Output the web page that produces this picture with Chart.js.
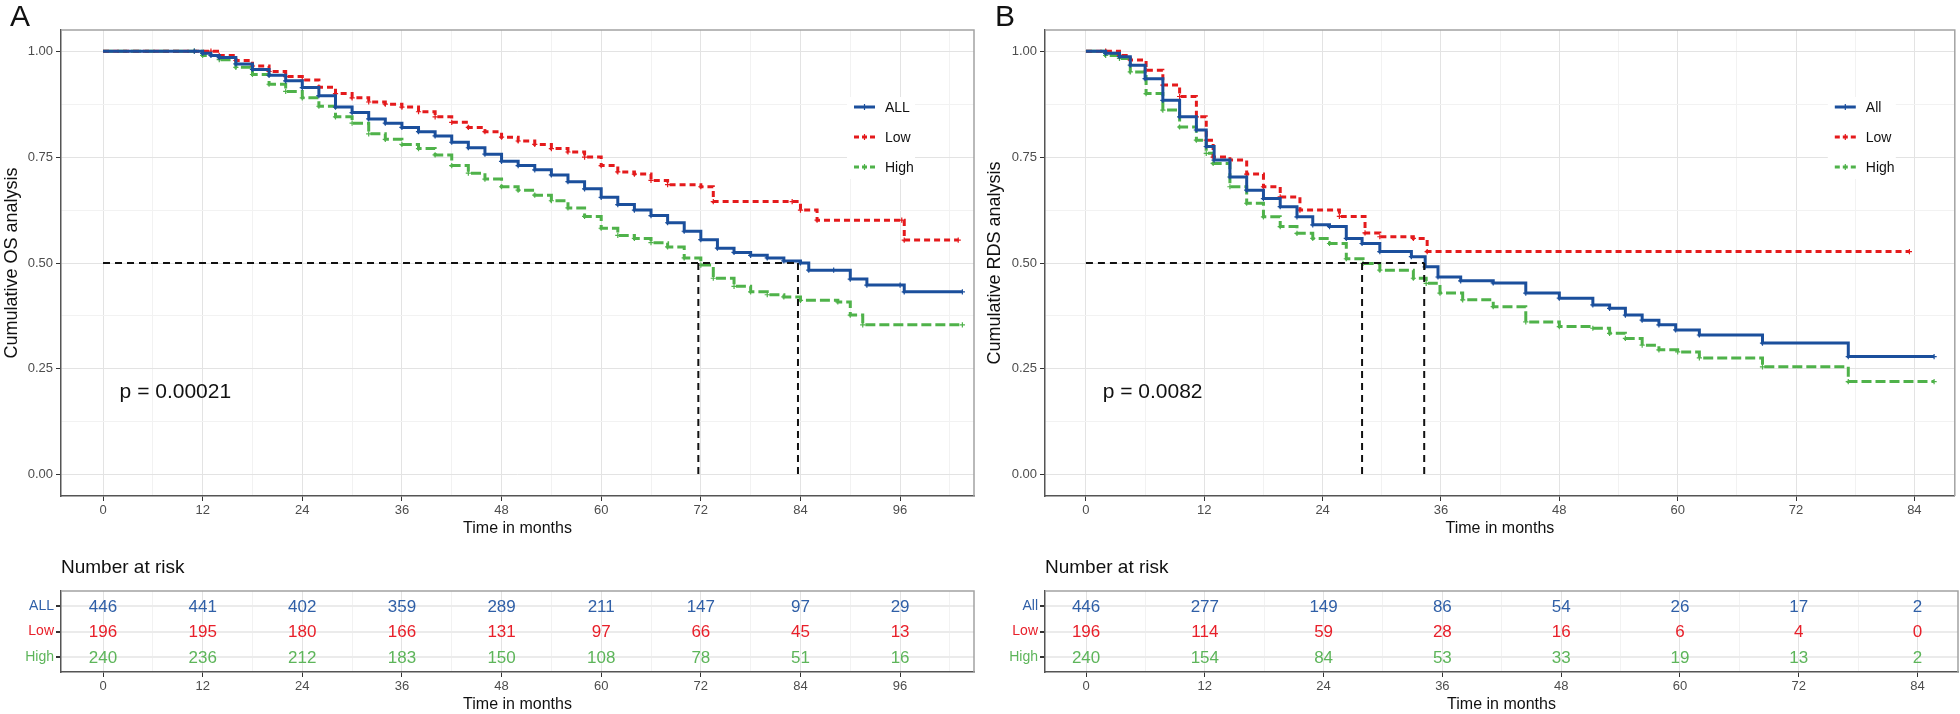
<!DOCTYPE html>
<html>
<head>
<meta charset="utf-8">
<script src="https://cdn.jsdelivr.net/npm/chart.js@4.4.1/dist/chart.umd.min.js"></script>
<style>
  html, body { margin: 0; padding: 0; background: #fff; }
  body { width: 1960px; height: 714px; position: relative; overflow: hidden; }
  canvas { position: absolute; }
</style>
</head>
<body>
<canvas id="km-a" width="980" height="540" style="left:0;top:0"></canvas>
<canvas id="risk-a" width="980" height="169" style="left:0;top:545px"></canvas>
<canvas id="km-b" width="980" height="540" style="left:980px;top:0"></canvas>
<canvas id="risk-b" width="980" height="169" style="left:980px;top:545px"></canvas>
<script>
// ---- panel A: overall survival (months / survival probability) ----
const osAllT  = [0, 11, 12, 13, 14, 16, 18, 20, 22, 24, 26, 28, 30, 32, 34, 36, 38, 40, 42, 44, 46, 48, 50, 52, 54, 56, 58, 60, 62, 64, 66, 68, 70, 72, 74, 76, 78, 80, 82, 84, 85, 88, 90, 92, 96, 96.5, 103.5]
const osAllS  = [1, 1, 0.995, 0.99, 0.985, 0.97, 0.957, 0.943, 0.93, 0.914, 0.895, 0.868, 0.855, 0.84, 0.83, 0.82, 0.81, 0.8, 0.785, 0.772, 0.757, 0.74, 0.73, 0.72, 0.708, 0.692, 0.675, 0.655, 0.638, 0.625, 0.612, 0.595, 0.575, 0.555, 0.535, 0.525, 0.518, 0.512, 0.505, 0.5, 0.483, 0.483, 0.462, 0.448, 0.448, 0.432, 0.432]
const osLowT  = [0, 13, 14, 16, 18, 20, 22, 24, 26, 28, 30, 32, 34, 36, 38, 40, 42, 44, 46, 48, 50, 52, 54, 56, 58, 60, 62, 64, 66, 68, 72, 73.5, 83, 84, 86, 96.2, 96.5, 103]
const osLowS  = [1, 1, 0.99, 0.978, 0.965, 0.952, 0.94, 0.932, 0.915, 0.9, 0.89, 0.88, 0.875, 0.868, 0.857, 0.845, 0.832, 0.82, 0.81, 0.797, 0.788, 0.78, 0.77, 0.762, 0.75, 0.73, 0.715, 0.71, 0.695, 0.685, 0.68, 0.645, 0.645, 0.625, 0.601, 0.601, 0.554, 0.554]
const osHighT = [0, 11, 12, 14, 16, 18, 20, 22, 24, 26, 28, 30, 32, 34, 36, 38, 40, 42, 44, 46, 48, 50, 52, 54, 56, 58, 60, 62, 64, 66, 68, 70, 72, 73.5, 76, 78, 80, 82, 84, 88.5, 90, 91.5, 103.5]
const osHighS = [1, 1, 0.99, 0.98, 0.962, 0.945, 0.922, 0.905, 0.89, 0.87, 0.845, 0.83, 0.805, 0.792, 0.78, 0.77, 0.755, 0.73, 0.712, 0.698, 0.68, 0.672, 0.66, 0.647, 0.63, 0.61, 0.582, 0.565, 0.558, 0.548, 0.538, 0.512, 0.495, 0.464, 0.445, 0.432, 0.425, 0.42, 0.412, 0.408, 0.377, 0.354, 0.354]
const osMedians = [71.7, 83.7]
const osGroups  = ['ALL', 'Low', 'High']
const osP       = 'p = 0.00021'

// ---- panel B: RDS ----
const rdsAllT  = [0, 2, 3.4, 4.5, 6, 7.8, 9.5, 11.2, 12.2, 13, 14.6, 16.3, 18, 19.7, 21.4, 23, 24.7, 26.4, 28, 29.8, 33, 34.4, 35.7, 38, 41.3, 44.6, 48, 51.4, 53.1, 54.7, 56.4, 58.1, 59.8, 62.2, 68.6, 77.3, 86]
const rdsAllS  = [1, 0.995, 0.987, 0.967, 0.935, 0.884, 0.845, 0.814, 0.775, 0.743, 0.703, 0.672, 0.652, 0.633, 0.609, 0.59, 0.586, 0.558, 0.546, 0.527, 0.515, 0.491, 0.467, 0.458, 0.453, 0.429, 0.417, 0.401, 0.393, 0.377, 0.365, 0.354, 0.342, 0.33, 0.311, 0.279, 0.279]
const rdsLowT  = [0, 2, 3.4, 4.5, 6.1, 7.8, 9.5, 11.2, 12.2, 12.9, 14.6, 16.3, 18, 19.7, 21.7, 25.7, 28.3, 29.8, 33.2, 34.6, 83.5]
const rdsLowS  = [1, 1, 0.99, 0.979, 0.955, 0.92, 0.893, 0.845, 0.79, 0.75, 0.743, 0.71, 0.68, 0.656, 0.625, 0.61, 0.571, 0.562, 0.558, 0.527, 0.527]
const rdsHighT = [0, 2, 3.4, 4.5, 6.1, 7.8, 9.5, 11.2, 12.2, 12.9, 14.6, 16.3, 18, 19.7, 21.4, 23, 24.7, 26.4, 28.1, 29.8, 33.2, 34.5, 35.9, 38.2, 41.3, 44.6, 48, 51.4, 53.1, 54.7, 56.4, 58.1, 60, 62.2, 68.6, 77.3, 86]
const rdsHighS = [1, 0.99, 0.983, 0.951, 0.9, 0.861, 0.821, 0.79, 0.759, 0.735, 0.68, 0.641, 0.609, 0.586, 0.57, 0.558, 0.546, 0.51, 0.499, 0.483, 0.464, 0.452, 0.429, 0.413, 0.397, 0.361, 0.35, 0.346, 0.334, 0.322, 0.306, 0.295, 0.29, 0.276, 0.255, 0.22, 0.22]
const rdsMedians = [28, 34.3]
const rdsGroups  = ['All', 'Low', 'High']
const rdsP       = 'p = 0.0082'

// ---- number at risk ----
const riskTimesA = [0, 12, 24, 36, 48, 60, 72, 84, 96]
const riskAllA   = [446, 441, 402, 359, 289, 211, 147, 97, 29]
const riskLowA   = [196, 195, 180, 166, 131, 97, 66, 45, 13]
const riskHighA  = [240, 236, 212, 183, 150, 108, 78, 51, 16]
const riskTimesB = [0, 12, 24, 36, 48, 60, 72, 84]
const riskAllB   = [446, 277, 149, 86, 54, 26, 17, 2]
const riskLowB   = [196, 114, 59, 28, 16, 6, 4, 0]
const riskHighB  = [240, 154, 84, 53, 33, 19, 13, 2]

// ---- axis grids ----
const xGridA = [0, 6, 12, 18, 24, 30, 36, 42, 48, 54, 60, 66, 72, 78, 84, 90, 96, 102]
const xGridB = [0, 6, 12, 18, 24, 30, 36, 42, 48, 54, 60, 66, 72, 78, 84]
const yGrid  = [0, 0.125, 0.25, 0.375, 0.5, 0.625, 0.75, 0.875, 1]

const FONT  = "'Liberation Sans', Arial, sans-serif"
const BLUE  = '#1b4f9c'
const RED   = '#e41a1c'
const GREEN = '#4fb24a'
const TXT   = ['#2f5fa7', '#e8202a', '#5db55a']

Chart.defaults.font.family = FONT
Chart.defaults.color = '#4d4d4d'

const xy = (ts, ss) => ts.map((t, i) => ({ x: t, y: ss[i] }))

function xAxis(o, grid, h) {
  return {
    type: 'linear', min: o.xMin, max: o.xMax,
    afterBuildTicks: s => { s.ticks = grid.map(v => ({ value: v })) },
    afterFit: s => { s.height = h },
    ticks: { autoSkip: false, maxRotation: 0, padding: 2, color: '#4d4d4d', font: { size: 13 },
      callback: v => v % 12 === 0 ? String(v) : '' },
    grid: {
      color: c => (c.tick && c.tick.value % 12 === 0) ? '#e3e3e3' : '#f2f2f2',
      lineWidth: 1, tickLength: 5,
      tickColor: c => (c.tick && c.tick.value % 12 === 0) ? '#333' : 'rgba(0,0,0,0)'
    },
    border: { display: true, color: '#555', width: 1.5 },
    title: { display: true, text: 'Time in months', color: '#111', font: { size: 16 }, padding: { top: 0, bottom: o.xTitlePad } }
  }
}

function frame(ctx, a) {
  ctx.strokeStyle = '#a3a3a3'
  ctx.lineWidth = 1.5
  ctx.beginPath()
  ctx.moveTo(a.left, a.top)
  ctx.lineTo(a.right, a.top)
  ctx.lineTo(a.right, a.bottom)
  ctx.stroke()
}

function kmChart(id, o) {
  const styles = [
    { color: BLUE,  dash: [] },
    { color: RED,   dash: [6, 4] },
    { color: GREEN, dash: [10, 4] }
  ]

  const decor = {
    id: 'decor',
    beforeDatasetsDraw(chart) {
      const { ctx, chartArea: a } = chart
      ctx.save()
      ctx.fillStyle = '#fff'
      ctx.fillRect(a.right - 127, a.top + 67, 68, 82)
      ctx.restore()
    },
    afterDraw(chart) {
      const { ctx, chartArea: a, scales: { x, y } } = chart
      ctx.save()
      frame(ctx, a)

      // legend
      o.groups.forEach((g, i) => {
        const ly = a.top + 77 + i * 30
        const x1 = a.right - 120, x2 = a.right - 99
        ctx.strokeStyle = styles[i].color
        ctx.lineWidth = 3
        ctx.setLineDash(styles[i].dash.length ? [5, 3] : [])
        ctx.beginPath(); ctx.moveTo(x1, ly); ctx.lineTo(x2, ly); ctx.stroke()
        ctx.setLineDash([])
        ctx.lineWidth = 1.2
        ctx.beginPath()
        ctx.moveTo((x1 + x2) / 2, ly - 3); ctx.lineTo((x1 + x2) / 2, ly + 3)
        ctx.stroke()
        ctx.fillStyle = '#111'
        ctx.font = `14px ${FONT}`
        ctx.textAlign = 'left'
        ctx.textBaseline = 'middle'
        ctx.fillText(g, a.right - 89, ly + 1)
      })

      // p value
      ctx.fillStyle = '#111'
      ctx.font = `21px ${FONT}`
      ctx.textBaseline = 'middle'
      ctx.fillText(o.p, x.getPixelForValue(o.pX), y.getPixelForValue(0.196))

      // panel letter
      ctx.font = `30px ${FONT}`
      ctx.fillText(o.letter, o.letterX, 18)
      ctx.restore()
    }
  }

  const curve = (label, ts, ss, st) => ({
    label, data: xy(ts, ss), stepped: true,
    borderColor: st.color, borderWidth: 3, borderDash: st.dash, borderCapStyle: 'butt',
    pointStyle: 'cross', pointBorderColor: st.color, pointBorderWidth: 1.2,
    pointRadius: c => c.dataIndex === 0 ? 0 : 2.6, fill: false
  })
  const median = pts => ({
    data: pts, borderColor: '#111', borderWidth: 2, borderDash: [7, 5], pointRadius: 0, fill: false
  })

  const maxMed = Math.max(...o.medians)
  const datasets = [
    median([{ x: 0, y: 0.5 }, { x: maxMed, y: 0.5 }]),
    ...o.medians.map(m => median([{ x: m, y: 0.5 }, { x: m, y: 0 }])),
    curve(o.groups[0], o.all[0], o.all[1], styles[0]),
    curve(o.groups[1], o.low[0], o.low[1], styles[1]),
    curve(o.groups[2], o.high[0], o.high[1], styles[2])
  ]

  return new Chart(document.getElementById(id), {
    type: 'line',
    data: { datasets },
    options: {
      responsive: false, animation: false, devicePixelRatio: 1, events: [],
      layout: { padding: { top: 30, right: o.padRight, left: 0, bottom: 0 } },
      plugins: { legend: { display: false }, tooltip: { enabled: false } },
      scales: {
        x: xAxis(o, o.xGrid, 44),
        y: {
          type: 'linear', min: -0.05, max: 1.05,
          afterBuildTicks: s => { s.ticks = yGrid.map(v => ({ value: v })) },
          afterFit: s => { s.width = o.axisWidth },
          ticks: { autoSkip: false, padding: 3, color: '#4d4d4d', font: { size: 13 },
            callback: v => v % 0.25 === 0 ? v.toFixed(2) : '' },
          grid: {
            color: c => (c.tick && c.tick.value % 0.25 === 0) ? '#e3e3e3' : '#f2f2f2',
            lineWidth: 1, tickLength: 5,
            tickColor: c => (c.tick && c.tick.value % 0.25 === 0) ? '#333' : 'rgba(0,0,0,0)'
          },
          border: { display: true, color: '#555', width: 1.5 },
          title: { display: true, text: o.yTitle, color: '#111', font: { size: 18 }, padding: { top: o.yTitlePad, bottom: 0 } }
        }
      }
    },
    plugins: [decor]
  })
}

function riskTable(id, o) {
  const labels = {
    id: 'riskLabels',
    afterDraw(chart) {
      const { ctx, chartArea: a } = chart
      ctx.save()
      frame(ctx, a)
      ctx.font = `17px ${FONT}`
      ctx.textAlign = 'center'
      ctx.textBaseline = 'middle'
      chart.data.datasets.forEach((ds, di) => {
        ctx.fillStyle = TXT[di]
        chart.getDatasetMeta(di).data.forEach((pt, i) => ctx.fillText(String(ds.data[i].n), pt.x, pt.y + 1))
      })
      ctx.fillStyle = '#111'
      ctx.font = `19px ${FONT}`
      ctx.textAlign = 'left'
      ctx.fillText('Number at risk', a.left, 23)
      ctx.restore()
    }
  }

  const row = (counts, r) => ({
    data: o.times.map((t, i) => ({ x: t, y: r, n: counts[i] })),
    pointRadius: 0, showLine: false
  })

  return new Chart(document.getElementById(id), {
    type: 'scatter',
    data: { datasets: [row(o.all, 1), row(o.low, 2), row(o.high, 3)] },
    options: {
      responsive: false, animation: false, devicePixelRatio: 1, events: [],
      layout: { padding: { top: 46, right: o.padRight, left: 0, bottom: 0 } },
      plugins: { legend: { display: false }, tooltip: { enabled: false } },
      scales: {
        x: xAxis(o, o.xGrid, 42),
        y: {
          type: 'linear', min: 0.4, max: 3.6, reverse: true,
          afterBuildTicks: s => { s.ticks = [1, 2, 3].map(v => ({ value: v })) },
          afterFit: s => { s.width = o.axisWidth },
          ticks: { autoSkip: false, padding: 2, font: { size: 14 },
            color: c => TXT[c.index], callback: v => o.groups[v - 1] },
          grid: { color: '#ebebeb', lineWidth: 2, tickLength: 5, tickColor: '#333' },
          border: { display: true, color: '#555', width: 1.5 }
        }
      }
    },
    plugins: [labels]
  })
}

kmChart('km-a', {
  all: [osAllT, osAllS], low: [osLowT, osLowS], high: [osHighT, osHighS],
  medians: osMedians, groups: osGroups, p: osP, pX: 2.0,
  yTitle: 'Cumulative OS analysis', yTitlePad: 1, letter: 'A', letterX: 10,
  xMin: -5.06, xMax: 104.9, xGrid: xGridA, axisWidth: 61, padRight: 6, xTitlePad: 2
})
kmChart('km-b', {
  all: [rdsAllT, rdsAllS], low: [rdsLowT, rdsLowS], high: [rdsHighT, rdsHighS],
  medians: rdsMedians, groups: rdsGroups, p: rdsP, pX: 1.7,
  yTitle: 'Cumulative RDS analysis', yTitlePad: 4, letter: 'B', letterX: 15,
  xMin: -4.15, xMax: 88.1, xGrid: xGridB, axisWidth: 65, padRight: 2, xTitlePad: 2
})
riskTable('risk-a', {
  times: riskTimesA, all: riskAllA, low: riskLowA, high: riskHighA, groups: osGroups,
  xMin: -5.06, xMax: 104.9, xGrid: xGridA, axisWidth: 61, padRight: 6, xTitlePad: 0
})
riskTable('risk-b', {
  times: riskTimesB, all: riskAllB, low: riskLowB, high: riskHighB, groups: rdsGroups,
  xMin: -4.15, xMax: 88.1, xGrid: xGridB, axisWidth: 65, padRight: 2, xTitlePad: 0
})
</script>
</body>
</html>
